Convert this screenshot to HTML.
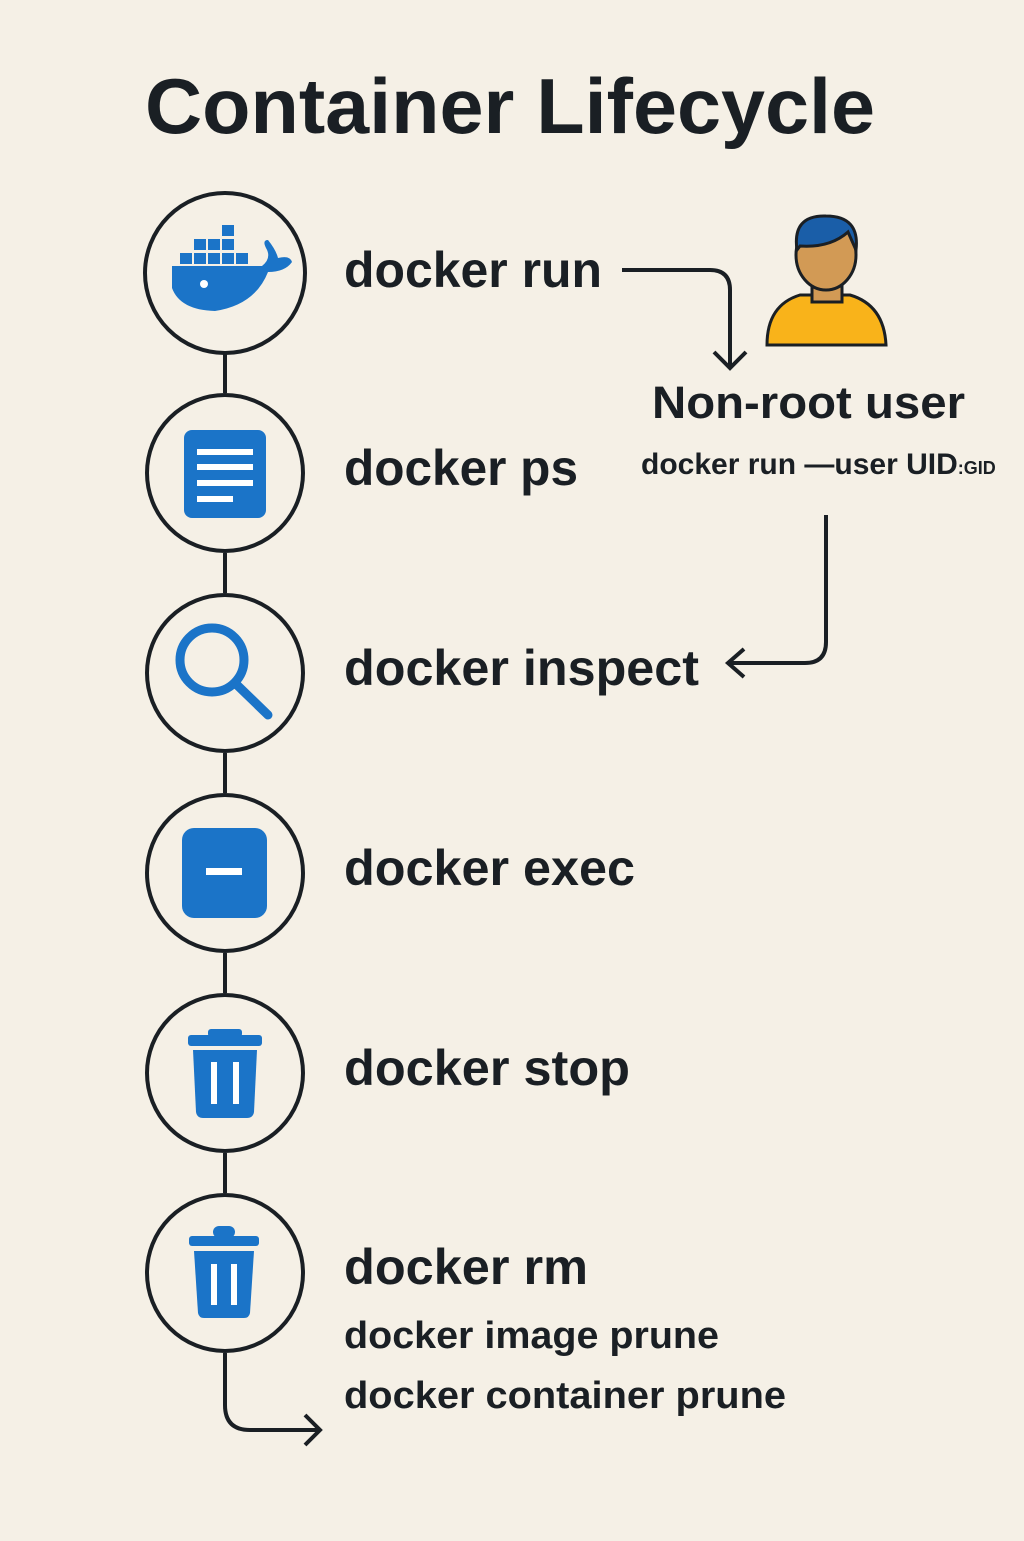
<!DOCTYPE html>
<html><head><style>html,body{margin:0;padding:0;background:#f5f0e6;}</style></head>
<body>
<svg width="1024" height="1536" viewBox="0 0 1024 1536" xmlns="http://www.w3.org/2000/svg" font-family="Liberation Sans, sans-serif" font-weight="bold" fill="#1a1f24">
<rect width="1024" height="1536" fill="#f5f0e6"/>
<text x="145" y="133" font-size="78" textLength="730" lengthAdjust="spacingAndGlyphs">Container Lifecycle</text>
<g stroke="#1a1f24" stroke-width="4" fill="none">
<line x1="225" y1="353" x2="225" y2="393"/>
<line x1="225" y1="553" x2="225" y2="593"/>
<line x1="225" y1="753" x2="225" y2="793"/>
<line x1="225" y1="953" x2="225" y2="993"/>
<line x1="225" y1="1153" x2="225" y2="1193"/>
<circle cx="225" cy="273" r="80"/><circle cx="225" cy="473" r="78"/><circle cx="225" cy="673" r="78"/>
<circle cx="225" cy="873" r="78"/><circle cx="225" cy="1073" r="78"/><circle cx="225" cy="1273" r="78"/>
<path d="M225 1353 V1405 Q225 1430 250 1430 H320 M305 1415 L320 1430 L305 1445"/>
<path d="M622 270 H710 Q730 270 730 290 V368 M714 352 L730 368 L746 352"/>
<path d="M826 515 V642 Q826 663 805 663 H728 M744 649 L728 663 L744 677"/>
</g>
<g fill="#1b74c8">
<rect x="222" y="225" width="12" height="11"/>
<rect x="194" y="239" width="12" height="11"/><rect x="208" y="239" width="12" height="11"/><rect x="222" y="239" width="12" height="11"/>
<rect x="180" y="253" width="12" height="11"/><rect x="194" y="253" width="12" height="11"/><rect x="208" y="253" width="12" height="11"/><rect x="222" y="253" width="12" height="11"/><rect x="236" y="253" width="12" height="11"/>
<path d="M172 266 H262 Q272 258 266 248 Q262 240 268 240 Q276 250 278 258 Q290 255 292 262 Q285 272 268 272 Q255 305 215 311 Q180 310 172 288 Z"/>
</g>
<circle cx="204" cy="284" r="4" fill="#fff"/>
<rect x="184" y="430" width="82" height="88" rx="8" fill="#1b74c8"/>
<g stroke="#fff" stroke-width="6"><line x1="197" y1="452" x2="253" y2="452"/><line x1="197" y1="467" x2="253" y2="467"/><line x1="197" y1="483" x2="253" y2="483"/><line x1="197" y1="499" x2="233" y2="499"/></g>
<g stroke="#1b74c8" stroke-width="9" fill="none" stroke-linecap="round"><circle cx="212" cy="660" r="32"/><line x1="236" y1="684" x2="268" y2="715"/></g>
<rect x="182" y="828" width="85" height="90" rx="12" fill="#1b74c8"/>
<rect x="206" y="868" width="36" height="7" fill="#fff"/>
<g fill="#1b74c8"><rect x="208" y="1029" width="34" height="8" rx="3"/><rect x="188" y="1035" width="74" height="11" rx="3"/><path d="M193 1050 H257 L254 1112 Q253 1118 247 1118 H203 Q197 1118 196 1112 Z"/></g>
<g stroke="#fff" stroke-width="6"><line x1="214" y1="1062" x2="214" y2="1104"/><line x1="236" y1="1062" x2="236" y2="1104"/></g>
<g fill="#1b74c8"><rect x="213" y="1226" width="22" height="12" rx="6"/><rect x="189" y="1236" width="70" height="10" rx="3"/><path d="M194 1251 H254 L250 1313 Q249 1318 244 1318 H204 Q199 1318 198 1313 Z"/></g>
<g stroke="#fff" stroke-width="6"><line x1="214" y1="1264" x2="214" y2="1305"/><line x1="234" y1="1264" x2="234" y2="1305"/></g>
<path d="M767 345 Q767 305 800 295 L850 295 Q884 305 886 345 Z" fill="#f9b31a" stroke="#1a1f24" stroke-width="3"/>
<rect x="812" y="280" width="30" height="22" fill="#d29a55" stroke="#1a1f24" stroke-width="3"/>
<ellipse cx="826" cy="255" rx="30" ry="35" fill="#d29a55" stroke="#1a1f24" stroke-width="3"/>
<path d="M797 250 Q792 215 826 216 Q860 216 856 250 L848 232 Q830 248 800 246 Z" fill="#1a5ea8" stroke="#1a1f24" stroke-width="3"/>
<g font-size="50">
<text x="344" y="287" textLength="258" lengthAdjust="spacingAndGlyphs">docker run</text>
<text x="344" y="485" textLength="234" lengthAdjust="spacingAndGlyphs">docker ps</text>
<text x="344" y="685" textLength="355" lengthAdjust="spacingAndGlyphs">docker inspect</text>
<text x="344" y="885" textLength="291" lengthAdjust="spacingAndGlyphs">docker exec</text>
<text x="344" y="1085" textLength="286" lengthAdjust="spacingAndGlyphs">docker stop</text>
<text x="344" y="1284" textLength="244" lengthAdjust="spacingAndGlyphs">docker rm</text>
</g>
<g font-size="38">
<text x="344" y="1348" textLength="375" lengthAdjust="spacingAndGlyphs">docker image prune</text>
<text x="344" y="1408" textLength="442" lengthAdjust="spacingAndGlyphs">docker container prune</text>
</g>
<text x="652" y="418" font-size="45" textLength="313" lengthAdjust="spacingAndGlyphs">Non-root user</text>
<text x="641" y="474" font-size="30">docker run —user UID<tspan font-size="18">:GID</tspan></text>
</svg>
</body></html>
